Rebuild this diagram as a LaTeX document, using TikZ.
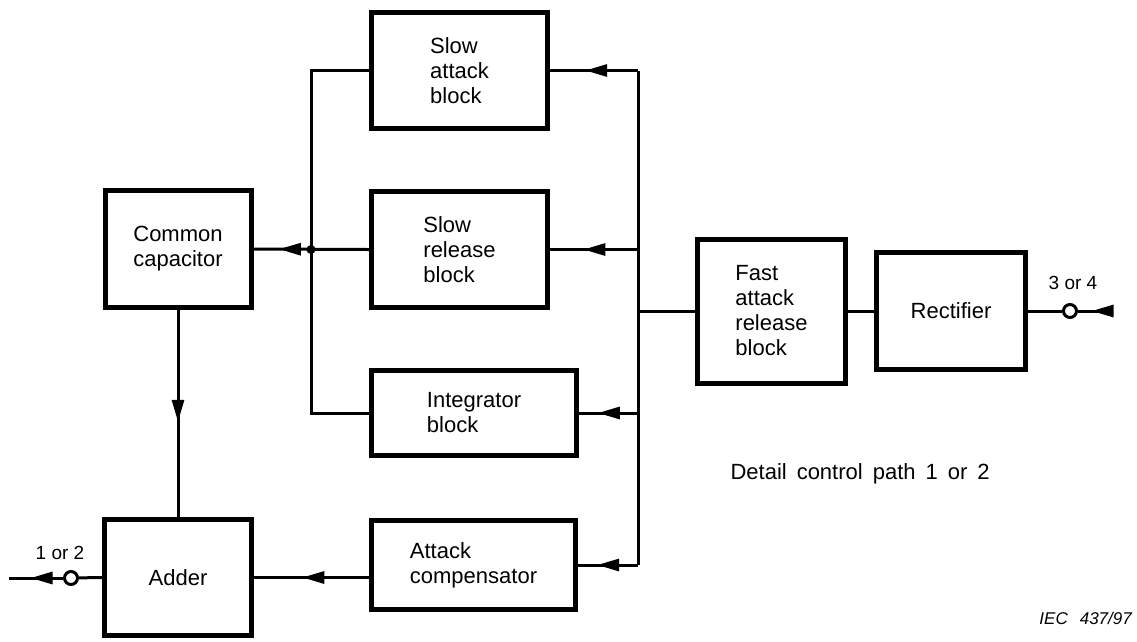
\documentclass[tikz,border=0pt]{standalone}
\usepackage{fontspec}
\setmainfont{Liberation Sans}
\usetikzlibrary{arrows.meta,decorations.markings}

\tikzset{
    block/.style={draw, line width=5pt, inner sep=0pt, align=left,
        font=\fontsize{22}{25}\selectfont},
    wire/.style={line width=3pt},
    flow/.style={postaction={decorate}, decoration={markings,
        mark=at position #1 with {\arrow{Triangle[length=22pt,width=12pt]}}}},
    flow/.default=0.5,
    term/.style={circle, draw, line width=3pt, fill=white, minimum size=13pt, inner sep=0pt},
    tag/.style={font=\fontsize{19}{22}\selectfont},
}

\begin{document}
\begin{tikzpicture}[x=1pt,y=-1pt]
    \useasboundingbox (0,0) rectangle (1137,641);

    \node[block, minimum width=176, minimum height=116] (slowatt) at (459.5,70.5) {Slow\\attack\\block};
    \node[block, minimum width=176, minimum height=116] (slowrel) at (459.5,249.5) {Slow\\release\\block};
    \node[block, minimum width=205, minimum height=85] (integ) at (474,413) {Integrator\\block};
    \node[block, minimum width=204, minimum height=89] (attcomp) at (473.5,565) {Attack\\compensator};
    \node[block, align=center, minimum width=146, minimum height=117] (common) at (178,249) {Common\\capacitor};
    \node[block, minimum width=147, minimum height=116] (adder) at (178,577.5) {Adder};
    \node[block, minimum width=148, minimum height=144] (fast) at (771.5,311) {Fast\\attack\\release\\block};
    \node[block, minimum width=149, minimum height=117] (rect) at (951,311) {Rectifier};

    \node[term] (tin) at (1070,311) {};
    \node[term] (tout) at (71,578) {};
    \coordinate (endin) at (1112,311);
    \coordinate (endout) at (9,578);

    \coordinate (rA) at (638,70.5);
    \coordinate (rB) at (638,249.5);
    \coordinate (rF) at (638,311);
    \coordinate (rC) at (638,413);
    \coordinate (rD) at (638,565);
    \coordinate (lA) at (311,70.5);
    \coordinate (lC) at (311,413);
    \coordinate (jn) at (311,249.5);

    \node[tag] (lbin) at (1073,283) {3 or 4};
    \node[tag] (lbout) at (60,553) {1 or 2};
    \node[anchor=west, font=\fontsize{22}{25}\selectfont] (caption) at (727,474) {\spaceskip=10pt\relax Detail control path 1 or 2};
    \node[anchor=east, inner sep=0pt, font=\fontsize{17}{20}\selectfont\itshape] (iec) at (1132,618) {IEC\hspace{12pt}437/97};

    \draw[wire, flow=0.6] (endin) -- (tin);
    \draw[wire] (tin) -- (rect.east);
    \draw[wire] (rect.west) -- (fast.east);
    \draw[wire] (fast.west) -- (rF);
    \draw[wire] (rA) -- (rD);
    \draw[wire, flow=0.6] (rA) -- (slowatt.east);
    \draw[wire, flow=0.62] (rB) -- (slowrel.east);
    \draw[wire, flow=0.68] (rC) -- (integ.east);
    \draw[wire, flow=0.68] (rD) -- (attcomp.east);
    \draw[wire] (slowatt.west) -- (lA) -- (lC) -- (integ.west);
    \draw[wire, flow=0.78] (slowrel.west) -- (common.east);
    \fill (jn) circle (4.5pt);
    \draw[wire, flow=0.54] (common.south) -- (adder.north);
    \draw[wire, flow=0.58] (adder.east -| attcomp.west) -- (adder.east);
    \draw[wire] (adder.west) -- (tout);
    \draw[wire, flow=0.6] (tout) -- (endout);
\end{tikzpicture}
\end{document}
